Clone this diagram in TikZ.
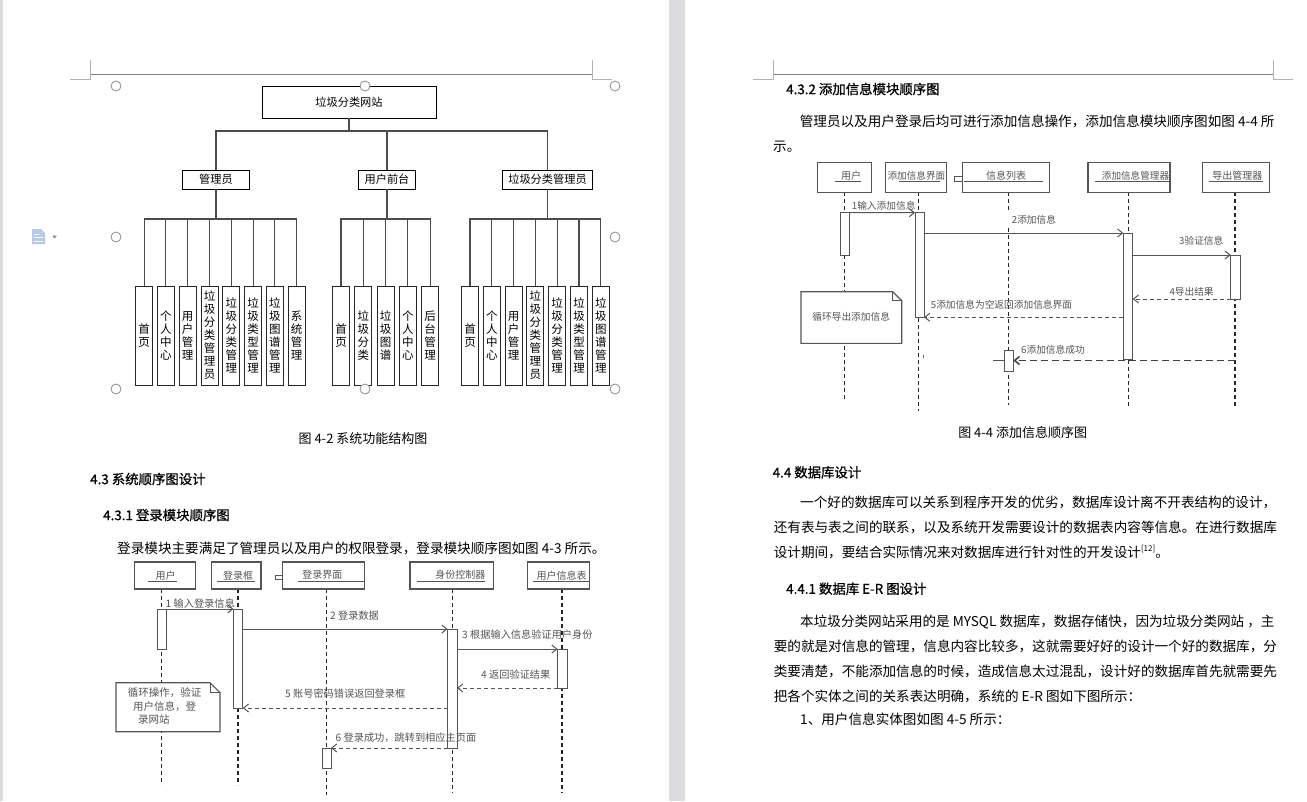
\documentclass[tikz,border=0pt]{standalone}
\usepackage{fontspec}
\setmainfont{Noto Sans CJK SC}
\newfontfamily\headfont{Noto Sans CJK SC}[FakeBold=0.8]
\usetikzlibrary{arrows.meta}
\definecolor{pagegap}{HTML}{DCDCDE}
\definecolor{seqgray}{HTML}{555555}
\definecolor{handlegray}{HTML}{8C8C8C}
\definecolor{iconblue}{HTML}{B7CBE9}
\begin{document}
\begin{tikzpicture}[x=1pt,y=-1pt,
  treebox/.style={draw=black, line width=0.9pt, inner sep=0pt, outer sep=0pt, font=\fontsize{11.2}{13}\selectfont},
  leaf/.style={draw=black!85, line width=1pt, inner sep=0pt, outer sep=0pt, minimum width=17pt, minimum height=99pt, align=center, font=\fontsize{11.5}{13}\selectfont},
  treeline/.style={draw=black!70, line width=1.1pt},
  hdr/.style={draw=black!50, line width=0.9pt},
  crn/.style={draw=black!30, line width=0.8pt},
  handle/.style={draw=handlegray, fill=white, line width=0.8pt},
  head/.style={draw=seqgray, line width=1.2pt, fill=white, inner sep=0pt, outer sep=0pt},
  headtxt/.style={text=seqgray, inner sep=0pt, font=\fontsize{10}{12}\selectfont},
  uline/.style={draw=seqgray, line width=0.9pt},
  actbar/.style={draw=seqgray, line width=1pt, fill=white, inner sep=0pt, outer sep=0pt},
  lifeline/.style={draw=black!85, line width=1.2pt, dash pattern=on 4pt off 3pt},
  msg/.style={draw=seqgray, line width=1pt, -{Straight Barb[length=5pt,width=8pt]}},
  ret/.style={msg, dash pattern=on 4pt off 3pt},
  lbl/.style={text=seqgray, inner sep=0pt, anchor=west, font=\fontsize{10.2}{12}\selectfont},
  rlbl/.style={text=seqgray, inner sep=0pt, anchor=west, font=\fontsize{9.7}{12}\selectfont},
  notebg/.style={fill=white, draw=none, inner sep=0pt, outer sep=0pt},
  notef/.style={draw=seqgray, line width=1.1pt},
  body/.style={inner sep=0pt, anchor=west, font=\fontsize{13.6}{16}\selectfont},
  heading/.style={inner sep=0pt, anchor=west, font=\headfont\fontsize{13.4}{16}\selectfont},
  caption/.style={inner sep=0pt, font=\fontsize{13}{16}\selectfont}
]
\useasboundingbox (0,0) rectangle (1307,801);
\fill[white] (0,0) rectangle (1307,801);
\fill[pagegap] (0,0) rectangle (3,801);
\fill[pagegap] (669,0) rectangle (685,801);

% ---------- page headers ----------
\draw[hdr] (90,74) -- (592,74);
\draw[crn] (90,60) -- (90,79) -- (70,79);
\draw[crn] (592,60) -- (592,79) -- (612,79);
\draw[hdr] (773,74) -- (1273,74);
\draw[crn] (773,60) -- (773,79) -- (753,79);
\draw[crn] (1273,60) -- (1273,79) -- (1293,79);

% ---------- side icon ----------
\fill[iconblue] (32,229) -- (41,229) -- (45,233) -- (45,244) -- (32,244) -- cycle;
\draw[white, line width=1pt] (34,234) -- (39,234) (34,237.5) -- (43,237.5) (34,241) -- (43,241);
\fill[black!45] (52,235.5) -- (57,235.5) -- (54.5,238.5) -- cycle;

% ---------- tree ----------
\node[treebox, minimum width=174pt, minimum height=32pt] (root) at (349,102) {垃圾分类网站};
\node[treebox, minimum width=66.7pt, minimum height=19.3pt] (l1) at (216,179.7) {管理员};
\node[treebox, minimum width=56.3pt, minimum height=19.3pt] (l2) at (387,179.7) {用户前台};
\node[treebox, minimum width=90pt, minimum height=19.3pt] (l3) at (547.5,179.7) {垃圾分类管理员};
\coordinate (bar0) at (349,131);

\node[leaf] (g1a) at (144.1,335.5) {首\\页};
\node[leaf] (g1b) at (165.9,335.5) {个\\人\\中\\心};
\node[leaf] (g1c) at (187.7,335.5) {用\\户\\管\\理};
\node[leaf] (g1d) at (209.5,335.5) {垃\\圾\\分\\类\\管\\理\\员};
\node[leaf] (g1e) at (231.3,335.5) {垃\\圾\\分\\类\\管\\理};
\node[leaf] (g1f) at (253.1,335.5) {垃\\圾\\类\\型\\管\\理};
\node[leaf] (g1g) at (274.9,335.5) {垃\\圾\\图\\谱\\管\\理};
\node[leaf] (g1h) at (296.7,335.5) {系\\统\\管\\理};

\node[leaf] (g2a) at (341,335.5) {首\\页};
\node[leaf] (g2b) at (363.3,335.5) {垃\\圾\\分\\类};
\node[leaf] (g2c) at (385.6,335.5) {垃\\圾\\图\\谱};
\node[leaf] (g2d) at (407.9,335.5) {个\\人\\中\\心};
\node[leaf] (g2e) at (430.2,335.5) {后\\台\\管\\理};

\node[leaf] (g3a) at (470,335.5) {首\\页};
\node[leaf] (g3b) at (491.8,335.5) {个\\人\\中\\心};
\node[leaf] (g3c) at (513.6,335.5) {用\\户\\管\\理};
\node[leaf] (g3d) at (535.4,335.5) {垃\\圾\\分\\类\\管\\理\\员};
\node[leaf] (g3e) at (557.2,335.5) {垃\\圾\\分\\类\\管\\理};
\node[leaf] (g3f) at (579,335.5) {垃\\圾\\类\\型\\管\\理};
\node[leaf] (g3g) at (600.8,335.5) {垃\\圾\\图\\谱\\管\\理};

\coordinate (bar1) at (216,219);
\coordinate (bar2) at (387,219);
\coordinate (bar3) at (547.5,219);

\draw[treeline] (root.south) -- (bar0);
\draw[treeline] (l1.north) |- (l3.north |- bar0) -- (l3.north);
\draw[treeline] (l2.north) -- (l2.north |- bar0);

\draw[treeline] (l1.south) -- (bar1);
\draw[treeline] (g1a.north) |- (g1h.north |- bar1) -- (g1h.north);
\foreach \n in {g1b,g1c,g1d,g1e,g1f,g1g} \draw[treeline] (\n.north) -- (\n.north |- bar1);
\draw[treeline] (l2.south) -- (bar2);
\draw[treeline] (g2a.north) |- (g2e.north |- bar2) -- (g2e.north);
\foreach \n in {g2b,g2c,g2d} \draw[treeline] (\n.north) -- (\n.north |- bar2);
\draw[treeline] (l3.south) -- (bar3);
\draw[treeline] (g3a.north) |- (g3g.north |- bar3) -- (g3g.north);
\foreach \n in {g3b,g3c,g3d,g3e,g3f} \draw[treeline] (\n.north) -- (\n.north |- bar3);

% selection handles
\foreach \p in {(116,86),(365,86),(615,86),(116,237),(615,237),(116,389),(365,389),(615,389)}
  \draw[handle] \p circle (5pt);

% ---------- left page text ----------
\node[caption] (cap42) at (363,439) {图 4-2 系统功能结构图};
\node[heading] (h43) at (90,479) {4.3 系统顺序图设计};
\node[heading] (h431) at (103,515) {4.3.1 登录模块顺序图};
\node[body] (p431) at (117,548) {登录模块主要满足了管理员以及用户的权限登录，登录模块顺序图如图 4-3 所示。};

% ---------- login sequence diagram ----------
\coordinate (uT) at (161.4,589); \coordinate (uB) at (161.4,785);
\coordinate (kT) at (238,589);   \coordinate (kB) at (238,785);
\coordinate (iT) at (326.6,589); \coordinate (iB) at (326.6,795);
\coordinate (cT) at (452.4,589); \coordinate (cB) at (452.4,793);
\coordinate (tT) at (562,589);   \coordinate (tB) at (562,793);
\draw[lifeline] (uT) -- (uB);
\draw[lifeline] (kT) -- (kB);
\draw[lifeline] (iT) -- (iB);
\draw[lifeline] (cT) -- (cB);
\draw[lifeline] (tT) -- (tB);

\node[head, minimum width=61pt, minimum height=27pt] (hU) at (165,575.5) {};
\node[head, minimum width=49.6pt, minimum height=27pt] (hK) at (236.2,575.5) {};
\node[head, minimum width=82.1pt, minimum height=27pt] (hI) at (323.45,575.5) {};
\node[head, minimum width=83.8pt, minimum height=27pt] (hC) at (451.9,575.5) {};
\node[head, minimum width=62.1pt, minimum height=27pt] (hT) at (558.65,575.5) {};
\node[headtxt] (xU) at (165.5,575.2) {用户};
\node[headtxt] (xK) at (238,575.2) {登录框};
\node[headtxt] (xI) at (322.4,575.2) {登录界面};
\node[headtxt] (xC) at (460.3,575.2) {身份控制器};
\node[headtxt] (xT) at (561.5,575.2) {用户信息表};
\draw[uline] (148.3,581) -- (176.6,581);
\draw[uline] (217.2,581) -- (255.2,581);
\draw[uline] (298.3,581) -- (363.8,581);
\draw[uline] (417.2,581) -- (484.5,581);
\draw[uline] (532.8,581) -- (589.7,581);
\draw[draw=seqgray, line width=0.9pt, fill=white] (275.2,575.7) rectangle (282.4,579.7);

% note
\node[notebg, minimum width=104pt, minimum height=49pt] (nL) at (168,707.2) {};
\draw[notef] (nL.south west) -- (nL.north west) -- ([xshift=-10pt]nL.north east) -- ([yshift=-10pt]nL.north east) -- (nL.south east) -- cycle;
\draw[notef, line width=0.8pt] ([xshift=-10pt]nL.north east) -- ([xshift=-10pt,yshift=-10pt]nL.north east) -- ([yshift=-10pt]nL.north east);
\node[lbl, font=\fontsize{10.5}{12}\selectfont] (nL1) at (127.6,693) {循环操作，验证};
\node[lbl, font=\fontsize{10.5}{12}\selectfont] (nL2) at (132.8,706.5) {用户信息，登};
\node[lbl, font=\fontsize{10.5}{12}\selectfont] (nL3) at (138,719.5) {录网站};

% activation bars
\node[actbar, minimum width=9pt, minimum height=40pt] (aU) at (161.5,629) {};
\node[actbar, minimum width=9.4pt, minimum height=99pt] (aL) at (238.1,658.5) {};
\node[actbar, minimum width=9.4pt, minimum height=119pt] (aC) at (452.3,688.5) {};
\node[actbar, minimum width=9.4pt, minimum height=39pt] (aT) at (562.3,668.5) {};
\node[actbar, minimum width=8.6pt, minimum height=20pt] (aI) at (326.7,758) {};

% messages
\draw[msg] (aU.north east) -- (aL.north west);
\draw[msg] (aL.east |- aC.north) -- (aC.north west);
\draw[msg] (aC.east |- aT.north) -- (aT.north west);
\draw[ret] (aT.south west) -- (aC.east |- aT.south);
\draw[ret] (aC.west |- aL.south) -- (aL.south east);
\draw[ret] (aC.south west) -- (aI.north east);
\node[lbl] (m1) at (165.5,604) {1 输入登录信息};
\node[lbl] (m2) at (330,616) {2 登录数据};
\node[lbl] (m3) at (462,635) {3 根据输入信息验证用户身份};
\node[lbl] (m4) at (481,675) {4 返回验证结果};
\node[lbl] (m5) at (285,694) {5 账号密码错误返回登录框};
\node[lbl] (m6) at (335.5,737.7) {6 登录成功，跳转到相应主页面};

% ---------- right page text ----------
\node[heading] (h432) at (786,89) {4.3.2 添加信息模块顺序图};
\node[body] (p432a) at (799.6,121) {管理员以及用户登录后均可进行添加信息操作，添加信息模块顺序图如图 4-4 所};
\node[body] (p432b) at (773,147) {示。};

% ---------- add-info sequence diagram ----------
\coordinate (ruT) at (844.3,192.3); \coordinate (ruB) at (844.3,400);
\coordinate (riT) at (918.7,192.3); \coordinate (riB) at (918.7,410.7);
\coordinate (rlT) at (1008.3,192.3); \coordinate (rlM) at (1008.3,213); \coordinate (rlN) at (1008.3,228); \coordinate (rlB) at (1008.3,405);
\coordinate (rmT) at (1128.3,192.3); \coordinate (rmB) at (1128.3,406.7);
\coordinate (reT) at (1235,192.3); \coordinate (reB) at (1235,406.7);
\draw[lifeline] (ruT) -- (ruB);
\draw[lifeline] (riT) -- (riB);
\draw[lifeline] (rlT) -- (rlM);
\draw[lifeline] (rlN) -- (rlB);
\draw[lifeline] (rmT) -- (rmB);
\draw[lifeline] (reT) -- (reB);

\node[head, minimum width=53.7pt, minimum height=29.6pt] (gU) at (844.45,177.5) {};
\node[head, minimum width=61pt, minimum height=29.6pt] (gI) at (915.9,177.5) {};
\node[head, minimum width=86.6pt, minimum height=29.6pt] (gL) at (1006.1,177.5) {};
\node[head, minimum width=82pt, minimum height=29.6pt] (gM) at (1129,177.5) {};
\node[head, minimum width=67pt, minimum height=29.6pt] (gE) at (1235.8,177.5) {};
\node[headtxt] (yU) at (851,176) {用户};
\node[headtxt, font=\fontsize{9.6}{12}\selectfont] (yI) at (916.4,176) {添加信息界面};
\node[headtxt] (yL) at (1006.2,176) {信息列表};
\node[headtxt, font=\fontsize{9.6}{12}\selectfont] (yM) at (1135.5,176) {添加信息管理器};
\node[headtxt] (yE) at (1237.3,176) {导出管理器};
\draw[uline] (835,181.7) -- (861,181.7);
\draw[uline] (899,181.7) -- (939.5,181.7);
\draw[uline] (964,181.7) -- (1043,181.7);
\draw[uline] (1094.6,181.7) -- (1169,181.7);
\draw[uline] (1209,181.7) -- (1263,181.7);
\draw[draw=seqgray, line width=0.9pt, fill=white] (954.8,176) rectangle (962.8,181.7);

% note
\node[notebg, minimum width=100.7pt, minimum height=51.6pt] (nR) at (851.35,317.5) {};
\draw[notef] (nR.south west) -- (nR.north west) -- ([xshift=-9pt]nR.north east) -- ([yshift=-9pt]nR.north east) -- (nR.south east) -- cycle;
\draw[notef, line width=0.8pt] ([xshift=-9pt]nR.north east) -- ([xshift=-9pt,yshift=-9pt]nR.north east) -- ([yshift=-9pt]nR.north east);
\node[rlbl, anchor=center] (nRt) at (851.2,316.7) {循环导出添加信息};

% activation bars
\node[actbar, minimum width=9.3pt, minimum height=42.3pt] (bU) at (844.65,233.85) {};
\node[actbar, minimum width=9pt, minimum height=104.6pt] (bI) at (919.5,265) {};
\node[actbar, minimum width=9.4pt, minimum height=126.3pt] (bM) at (1128,296.15) {};
\node[actbar, minimum width=9.3pt, minimum height=44pt] (bE) at (1235.35,277) {};
\draw[draw=seqgray, line width=1pt] (993.3,360.7) -- (1004,360.7);
\node[actbar, minimum width=9.3pt, minimum height=21pt] (bL) at (1008.65,360.5) {};
\fill[black!60] (922.8,355) rectangle (923.8,358.2);

% messages
\coordinate (r6s) at (1235,360.5);
\draw[msg] (bU.north east) -- (bI.north west);
\draw[msg] (bI.east |- bM.north) -- (bM.north west);
\draw[msg] (bM.east |- bE.north) -- (bE.north west);
\draw[ret] (bE.south west) -- (bM.east |- bE.south);
\draw[ret] (bM.west |- bI.south) -- (bI.south east);
\draw[msg, draw=black!75, line width=1.5pt, dash pattern=on 7pt off 4pt] (r6s) -- (bL.east);
\node[rlbl] (r1) at (851.7,206) {1输入添加信息};
\node[rlbl] (r2) at (1011.7,220) {2添加信息};
\node[rlbl] (r3) at (1179,240.7) {3验证信息};
\node[rlbl] (r4) at (1169.3,292.3) {4导出结果};
\node[rlbl] (r5) at (930.7,305) {5添加信息为空返回添加信息界面};
\node[rlbl] (r6) at (1021,349.3) {6添加信息成功};

% ---------- right page lower text ----------
\node[caption] (cap44) at (1022.7,432.7) {图 4-4 添加信息顺序图};
\node[heading] (h44) at (772.5,472.3) {4.4 数据库设计};
\node[body] (p44a) at (800,502.3) {一个好的数据库可以关系到程序开发的优劣，数据库设计离不开表结构的设计，};
\node[body] (p44b) at (773.6,527.3) {还有表与表之间的联系，以及系统开发需要设计的数据表内容等信息。在进行数据库};
\node[body] (p44c) at (773.6,551.7) {设计期间，要结合实际情况来对数据库进行针对性的开发设计\raisebox{0.45em}{\fontsize{8}{9}\selectfont [12]}。};
\node[heading] (h441) at (786,588.7) {4.4.1 数据库 E-R 图设计};
\node[body] (p441a) at (800,622.3) {本垃圾分类网站采用的是 MYSQL 数据库，数据存储快，因为垃圾分类网站 ，主};
\node[body] (p441b) at (773.6,646.7) {要的就是对信息的管理，信息内容比较多，这就需要好好的设计一个好的数据库，分};
\node[body] (p441c) at (773.6,671) {类要清楚，不能添加信息的时候，造成信息太过混乱，设计好的数据库首先就需要先};
\node[body] (p441d) at (773.6,696) {把各个实体之间的关系表达明确，系统的 E-R 图如下图所示：};
\node[body] (p441e) at (800,719) {1、用户信息实体图如图 4-5 所示：};
\end{tikzpicture}
\end{document}
